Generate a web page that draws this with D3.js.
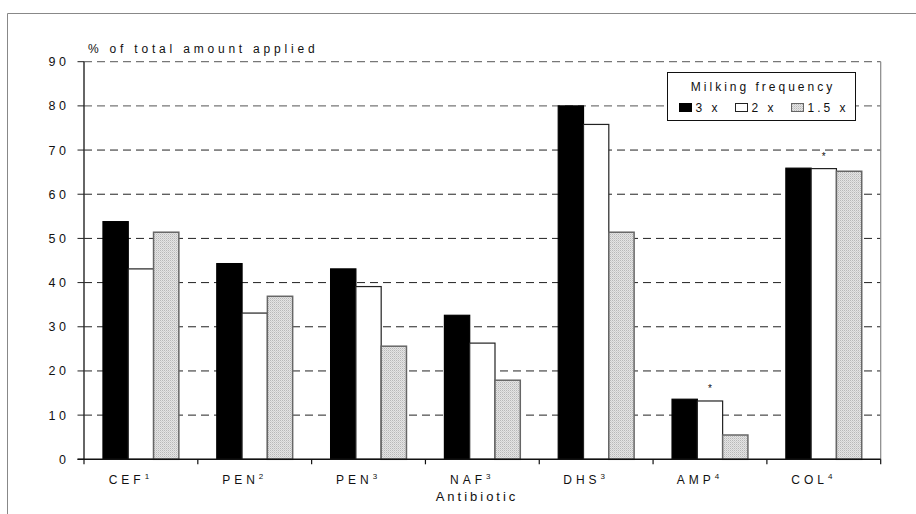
<!DOCTYPE html>
<html><head><meta charset="utf-8">
<script src="https://cdn.jsdelivr.net/npm/d3@7"></script>
<style>
html,body{margin:0;padding:0;background:#fff;}
text{font-family:"Liberation Sans",Arial,sans-serif;fill:#111;}
</style></head>
<body><svg id="c" width="916" height="514"></svg>
<script>
const categories = ["CEF","PEN","PEN","NAF","DHS","AMP","COL"];
const superscripts = ["1","2","3","3","3","4","4"];
const seriesNames = ["3 x","2 x","1.5 x"];
const s3x  = [53.8,44.3,43.1,32.6,80.0,13.6,65.9];
const s2x  = [43.1,33.1,39.1,26.3,75.8,13.2,65.8];
const s15x = [51.4,36.9,25.6,17.9,51.4,5.5,65.2];
const yTicks = [0,10,20,30,40,50,60,70,80,90];
const starred = [false,false,false,false,false,true,true];

const svg = d3.select("#c");
const defs = svg.append("defs");
const pat = defs.append("pattern").attr("id","dots").attr("patternUnits","userSpaceOnUse")
  .attr("width",2).attr("height",2);
pat.append("rect").attr("width",2).attr("height",2).attr("fill","#e4e4e4");
pat.append("rect").attr("width",1).attr("height",1).attr("fill","#b8b8b8");
pat.append("rect").attr("x",1).attr("y",1).attr("width",1).attr("height",1).attr("fill","#cfcfcf");

const fills = ["#000","#fff","url(#dots)"];
const strokes = ["#000","#222","#666"];

// outer frame
svg.append("path").attr("d","M7.5,514 V13.5 H916").attr("fill","none").attr("stroke","#888").attr("stroke-width",1);

const L=84, R=880.7, T=61.7, B=459.3;
const x = d3.scaleBand().domain(d3.range(categories.length)).range([L,R]).paddingInner(0).paddingOuter(0);
const y = d3.scaleLinear().domain([0,90]).range([B,T]);
const bw = x.bandwidth()/4.5;
const off = (x.bandwidth()-3*bw)/2;

// gridlines
svg.append("g").selectAll("line").data(yTicks.filter(d=>d>0)).join("line")
  .attr("x1",L).attr("x2",R).attr("y1",d=>y(d)).attr("y2",d=>y(d))
  .attr("stroke",d=>d>=80?"#777":"#222").attr("stroke-width",d=>d>=80?1.3:1)
  .attr("stroke-dasharray","8,5");

// right frame
svg.append("line").attr("x1",R).attr("x2",R).attr("y1",T).attr("y2",B).attr("stroke","#888").attr("stroke-width",1.2);

// bars
const series=[s3x,s2x,s15x];
series.forEach((vals,si)=>{
  svg.append("g").selectAll("rect").data(vals).join("rect")
    .attr("x",(d,i)=>x(i)+off+si*bw)
    .attr("y",d=>y(d))
    .attr("width",bw)
    .attr("height",d=>B-y(d))
    .attr("fill",fills[si]).attr("stroke",strokes[si]).attr("stroke-width",si==2?1.5:1.2);
});

// stars
svg.append("g").selectAll("text").data(d3.range(categories.length).filter(i=>starred[i])).join("text")
  .attr("x",i=>x(i)+off+1.5*bw).attr("y",i=>y(s2x[i])-9)
  .attr("text-anchor","middle").attr("font-size",10).attr("fill","#444").text("*");

// y axis
const ya = svg.append("g");
ya.append("line").attr("x1",L).attr("x2",L).attr("y1",T).attr("y2",B).attr("stroke","#333").attr("stroke-width",1.5);
ya.selectAll(".tk").data(yTicks).join("line").attr("class","tk")
  .attr("x1",77.5).attr("x2",L).attr("y1",d=>y(d)).attr("y2",d=>y(d)).attr("stroke","#222").attr("stroke-width",1);
ya.selectAll("text").data(yTicks).join("text")
  .attr("x",66).attr("y",d=>y(d)+4.5).attr("text-anchor","end")
  .attr("font-size",12.5).attr("letter-spacing","3.5px").attr("dx",3.5)
  .text(d=>d);

// x axis
const xa = svg.append("g");
xa.append("line").attr("x1",77.5).attr("x2",R).attr("y1",B).attr("y2",B).attr("stroke","#111").attr("stroke-width",1.5);
xa.selectAll("line.tk").data(d3.range(categories.length+1)).join("line").attr("class","tk")
  .attr("x1",i=>L+i*x.bandwidth()).attr("x2",i=>L+i*x.bandwidth())
  .attr("y1",B).attr("y2",B+5).attr("stroke","#111").attr("stroke-width",1.2);
const cl = xa.selectAll("text.cl").data(categories).join("text").attr("class","cl")
  .attr("x",(d,i)=>x(i)+x.bandwidth()/2-10).attr("y",484)
  .attr("text-anchor","middle").attr("font-size",12).attr("letter-spacing","4px");
cl.append("tspan").text(d=>d);
cl.append("tspan").attr("font-size",8).attr("dy",-5).text((d,i)=>superscripts[i]);

svg.append("text").attr("x",477).attr("y",501).attr("text-anchor","middle")
  .attr("font-size",13).attr("letter-spacing","3px").text("Antibiotic");

svg.append("text").attr("x",88).attr("y",53).attr("font-size",12).attr("letter-spacing","3.8px")
  .text("% of total amount applied");

// legend
const lg = svg.append("g");
lg.append("rect").attr("x",667.5).attr("y",72.5).attr("width",188).attr("height",48)
  .attr("fill","#fff").attr("stroke","#111").attr("stroke-width",1);
lg.append("text").attr("x",763).attr("y",91).attr("text-anchor","middle").attr("font-size",12)
  .attr("letter-spacing","3px").text("Milking frequency");
const lx=[679.5,735.5,791.5];
seriesNames.forEach((n,i)=>{
  lg.append("rect").attr("x",lx[i]).attr("y",103.5).attr("width",12).attr("height",8)
    .attr("fill",fills[i]).attr("stroke",strokes[i]).attr("stroke-width",1);
  lg.append("text").attr("x",lx[i]+16).attr("y",112).attr("font-size",12)
    .attr("letter-spacing","3px").text(n);
});
</script></body></html>
